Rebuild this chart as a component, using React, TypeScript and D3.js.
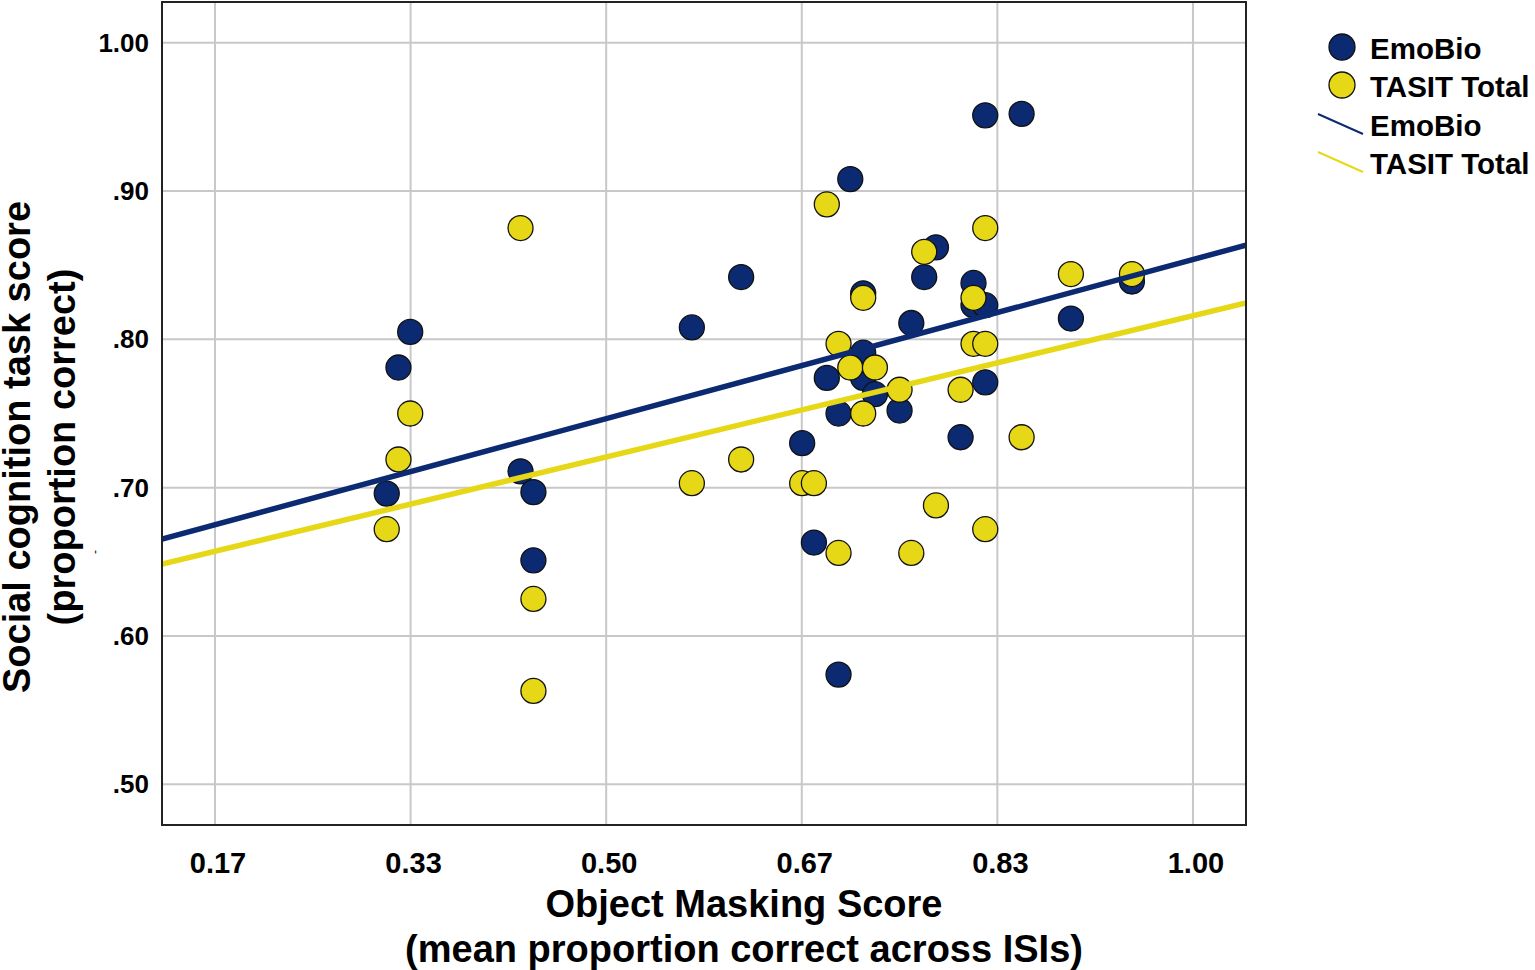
import { useEffect, useRef } from "react"
import * as d3 from "d3"

// Object masking score (x) per participant, EmoBio series
const emoX = [
  0.313, 0.323, 0.333, 0.427, 0.438, 0.438, 0.573, 0.615, 0.667, 0.677, 0.688,
  0.698, 0.698, 0.708, 0.719, 0.719, 0.719, 0.729, 0.75, 0.76, 0.771, 0.781,
  0.802, 0.813, 0.813, 0.823, 0.823, 0.823, 0.854, 0.896, 0.948,
]
const emoY = [
  0.696, 0.781, 0.805, 0.711, 0.697, 0.651, 0.808, 0.842, 0.73, 0.663, 0.774,
  0.75, 0.574, 0.908, 0.831, 0.791, 0.774, 0.763, 0.752, 0.811, 0.842, 0.862,
  0.734, 0.838, 0.823, 0.823, 0.771, 0.951, 0.952, 0.814, 0.839,
]

// TASIT Total series
const tasitX = [
  0.313, 0.323, 0.333, 0.427, 0.438, 0.438, 0.573, 0.615, 0.667, 0.677, 0.688,
  0.698, 0.698, 0.708, 0.719, 0.719, 0.729, 0.75, 0.76, 0.771, 0.781, 0.802,
  0.813, 0.813, 0.823, 0.823, 0.823, 0.854, 0.896, 0.948,
]
const tasitY = [
  0.672, 0.719, 0.75, 0.875, 0.625, 0.563, 0.703, 0.719, 0.703, 0.703, 0.891,
  0.797, 0.656, 0.781, 0.828, 0.75, 0.781, 0.766, 0.656, 0.859, 0.688, 0.766,
  0.828, 0.797, 0.875, 0.797, 0.672, 0.734, 0.844, 0.844,
]

// linear fit lines [intercept, slope]
const emoFit = [0.6393, 0.2145]
const tasitFit = [0.6254, 0.1905]

const xTicks = [1 / 6, 2 / 6, 3 / 6, 4 / 6, 5 / 6, 1]
const xTickLabels = ["0.17", "0.33", "0.50", "0.67", "0.83", "1.00"]
const yTicks = [0.5, 0.6, 0.7, 0.8, 0.9, 1.0]
const yTickLabels = [".50", ".60", ".70", ".80", ".90", "1.00"]

const NAVY = "#0c2a72"
const YELLOW = "#e6d816"
const FONT = "'Liberation Sans', Arial, sans-serif"

export default function App() {
  const svgRef = useRef<SVGSVGElement>(null)

  useEffect(() => {
    if (!svgRef.current) return
    const svg = d3.select(svgRef.current)
    svg.selectAll("*").remove()

    const left = 162
    const right = 1246
    const top = 2
    const bottom = 825

    const x = d3.scaleLinear().domain([0.1215, 1.0452]).range([left, right])
    const y = d3.scaleLinear().domain([0.4726, 1.0274]).range([bottom, top])

    svg.append("rect").attr("width", 1535).attr("height", 970).attr("fill", "#fff")

    // gridlines
    svg
      .append("g")
      .selectAll("line")
      .data(xTicks)
      .join("line")
      .attr("x1", (d) => x(d))
      .attr("x2", (d) => x(d))
      .attr("y1", top)
      .attr("y2", bottom)
      .attr("stroke", "#c8c8c8")
      .attr("stroke-width", 2)
    svg
      .append("g")
      .selectAll("line")
      .data(yTicks)
      .join("line")
      .attr("x1", left)
      .attr("x2", right)
      .attr("y1", (d) => y(d))
      .attr("y2", (d) => y(d))
      .attr("stroke", "#c8c8c8")
      .attr("stroke-width", 2)

    // tick labels
    svg
      .append("g")
      .selectAll("text")
      .data(xTicks)
      .join("text")
      .attr("x", (d) => x(d) + 3)
      .attr("y", 873)
      .attr("text-anchor", "middle")
      .attr("font-family", FONT)
      .attr("font-weight", "bold")
      .attr("font-size", 29)
      .text((d, i) => xTickLabels[i])
    svg
      .append("g")
      .selectAll("text")
      .data(yTicks)
      .join("text")
      .attr("x", 149)
      .attr("y", (d) => y(d) + 9)
      .attr("text-anchor", "end")
      .attr("font-family", FONT)
      .attr("font-weight", "bold")
      .attr("font-size", 26)
      .text((d, i) => yTickLabels[i])

    svg
      .append("clipPath")
      .attr("id", "plot-clip")
      .append("rect")
      .attr("x", left)
      .attr("y", top)
      .attr("width", right - left)
      .attr("height", bottom - top)

    const plot = svg.append("g").attr("clip-path", "url(#plot-clip)")

    // points
    plot
      .append("g")
      .selectAll("circle")
      .data(emoX.map((v, i) => [v, emoY[i]]))
      .join("circle")
      .attr("cx", (d) => x(d[0]))
      .attr("cy", (d) => y(d[1]))
      .attr("r", 12.5)
      .attr("fill", NAVY)
      .attr("stroke", "#111")
      .attr("stroke-width", 1.3)
    plot
      .append("g")
      .selectAll("circle")
      .data(tasitX.map((v, i) => [v, tasitY[i]]))
      .join("circle")
      .attr("cx", (d) => x(d[0]))
      .attr("cy", (d) => y(d[1]))
      .attr("r", 12.5)
      .attr("fill", YELLOW)
      .attr("stroke", "#111")
      .attr("stroke-width", 1.3)

    // fit lines
    const xr = x.domain()
    const fitLine = d3.line<number>().x((d) => x(d))
    ;[
      { fit: emoFit, color: NAVY },
      { fit: tasitFit, color: YELLOW },
    ].forEach(({ fit, color }) => {
      plot
        .append("path")
        .attr("d", fitLine.y((d) => y(fit[0] + fit[1] * d))(xr))
        .attr("fill", "none")
        .attr("stroke", color)
        .attr("stroke-width", 5.5)
    })

    // frame
    svg
      .append("rect")
      .attr("x", left)
      .attr("y", top)
      .attr("width", right - left)
      .attr("height", bottom - top)
      .attr("fill", "none")
      .attr("stroke", "#222")
      .attr("stroke-width", 2)

    // axis titles
    const xTitle = svg
      .append("text")
      .attr("text-anchor", "middle")
      .attr("font-family", FONT)
      .attr("font-weight", "bold")
      .attr("font-size", 38)
    xTitle.append("tspan").attr("x", 744).attr("y", 917).text("Object Masking Score")
    xTitle
      .append("tspan")
      .attr("x", 744)
      .attr("y", 962)
      .text("(mean proportion correct across ISIs)")

    const yTitle = svg
      .append("text")
      .attr("transform", "translate(0,447) rotate(-90)")
      .attr("text-anchor", "middle")
      .attr("font-family", FONT)
      .attr("font-weight", "bold")
      .attr("font-size", 38)
    yTitle.append("tspan").attr("x", 0).attr("y", 30).text("Social cognition task score")
    yTitle.append("tspan").attr("x", 0).attr("y", 75).text("(proportion correct)")

    svg
      .append("text")
      .attr("transform", "translate(99,552) rotate(-90)")
      .attr("text-anchor", "middle")
      .attr("font-family", FONT)
      .attr("font-size", 12)
      .text("-")

    // legend
    const legend = svg.append("g").attr("font-family", FONT).attr("font-weight", "bold")
    const markerItems = [
      { label: "EmoBio", color: NAVY },
      { label: "TASIT Total", color: YELLOW },
    ]
    markerItems.forEach((d, i) => {
      const cy = 47 + i * 38
      legend
        .append("circle")
        .attr("cx", 1342)
        .attr("cy", cy)
        .attr("r", 13)
        .attr("fill", d.color)
        .attr("stroke", "#111")
        .attr("stroke-width", 1.3)
      legend
        .append("text")
        .attr("x", 1370)
        .attr("y", cy + 12)
        .attr("font-size", 29.5)
        .text(d.label)
    })
    markerItems.forEach((d, i) => {
      const cy = 124 + i * 38
      legend
        .append("line")
        .attr("x1", 1318)
        .attr("y1", cy - 10)
        .attr("x2", 1363)
        .attr("y2", cy + 10)
        .attr("stroke", d.color)
        .attr("stroke-width", 2)
      legend
        .append("text")
        .attr("x", 1370)
        .attr("y", cy + 12)
        .attr("font-size", 29.5)
        .text(d.label)
    })
  }, [])

  return (
    <div style={{ position: "absolute", left: 0, top: 0 }}>
      <svg ref={svgRef} width={1535} height={970} style={{ display: "block" }} />
    </div>
  )
}
